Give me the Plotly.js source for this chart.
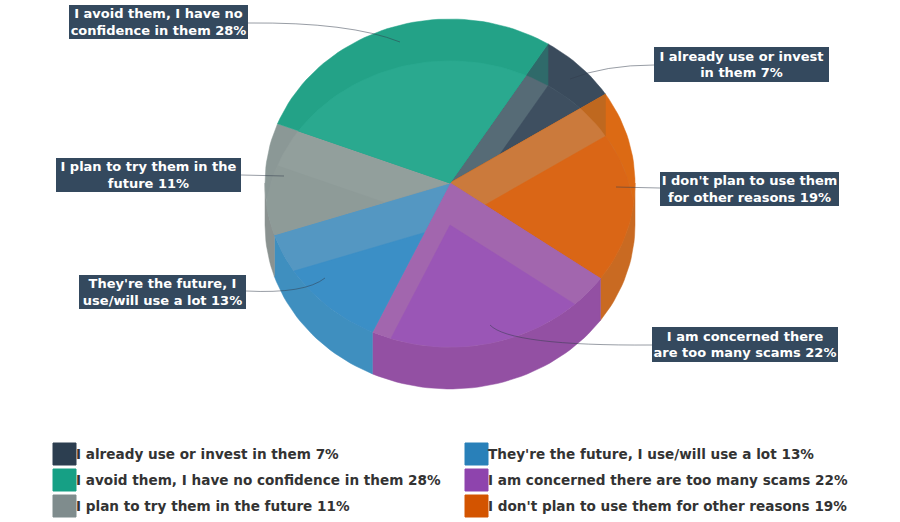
<!DOCTYPE html>
<html>
<head>
<meta charset="utf-8">
<script src="https://cdn.plot.ly/plotly-3.0.1.min.js"></script>
<style>html,body{margin:0;padding:0;background:#fff}#c{width:900px;height:522px}</style>
</head>
<body>
<div id="c"></div>
<script>
// Data, clockwise from the first slice
const categories = ["I already use or invest in them", "I don't plan to use them for other reasons", "I am concerned there are too many scams", "They're the future, I use/will use a lot", "I plan to try them in the future", "I avoid them, I have no confidence in them"];
const values = [7, 19, 22, 13, 11, 28];
const baseColors = ["#2c3e50", "#d35400", "#8e44ad", "#2980b9", "#7f8c8d", "#16a085"];
const innerColors = ["#3e4f60", "#da6616", "#9a56b6", "#3b8fc6", "#8e9b98", "#2aa98f"];
const bandColors = ["#566b76", "#cb7a3c", "#a266ae", "#5497c2", "#929f9c", "#2aa98f"];
const backColors = ["#3a4b5c", "#dc6a14", "#a266ae", "#5497c2", "#8b9896", "#23a287"];
const overlapColors = ["#2f6a6a", "#bf681f", null, null, null, null];
const wallColors = ["#2c3e50", "#c96a22", "#9350a3", "#3f8fbf", "#8a9290", "#16a085"];
const labelTexts = ["I already use or invest<br>in them 7%", "I don't plan to use them<br>for other reasons 19%", "I am concerned there<br>are too many scams 22%", "They're the future, I<br>use/will use a lot 13%", "I plan to try them in the<br>future 11%", "I avoid them, I have no<br>confidence in them 28%"];
const legendColumns = [[0, 5, 4], [3, 2, 1]];

// Projection of the tilted cylinder
const cx = 450, cy = 183, rx = 185, ry = 164, depth = 42, startAngle = 32;
const rad = d => d * Math.PI / 180;
const pt = (deg, dy) => [cx + rx * Math.sin(rad(deg)), cy + dy - ry * Math.cos(rad(deg))];
function arc(a, b, dy) {
  const out = [], n = Math.max(2, Math.ceil((b - a) / 2));
  for (let i = 0; i <= n; i++) out.push(pt(a + (b - a) * i / n, dy));
  return out;
}
const sector = (a, b, dy) => [[cx, cy + dy]].concat(arc(a, b, dy));
function area(p) {
  let s = 0;
  for (let i = 0; i < p.length; i++) { const q = p[(i + 1) % p.length]; s += p[i][0] * q[1] - q[0] * p[i][1]; }
  return s;
}
function clip(subject, clipper) {
  const sign = area(clipper) > 0 ? 1 : -1;
  let out = subject;
  for (let i = 0; i < clipper.length && out.length; i++) {
    const A = clipper[i], B = clipper[(i + 1) % clipper.length];
    const side = P => sign * ((B[0] - A[0]) * (P[1] - A[1]) - (B[1] - A[1]) * (P[0] - A[0]));
    const input = out; out = [];
    for (let j = 0; j < input.length; j++) {
      const P = input[j], Q = input[(j + 1) % input.length], sp = side(P), sq = side(Q);
      if (sp >= 0) out.push(P);
      if ((sp >= 0) !== (sq >= 0)) {
        const t = sp / (sp - sq);
        out.push([P[0] + (Q[0] - P[0]) * t, P[1] + (Q[1] - P[1]) * t]);
      }
    }
  }
  return out;
}
function poly(points, color, name) {
  if (points.length < 3) return null;
  const closed = points.concat([points[0]]);
  return {
    type: "scatter", mode: "lines", name: name, fill: "toself", fillcolor: color,
    x: closed.map(p => p[0]), y: closed.map(p => p[1]),
    line: {color: color, width: 0.5}, hoverinfo: "name", showlegend: false
  };
}

const traces = [];
let acc = startAngle;
const spans = values.map(v => { const a = acc; acc += v * 3.6; return [a, acc]; });
spans.forEach(([a, b], i) => {
  const lo = Math.max(a, 90), hi = Math.min(b, 270);
  if (lo < hi) traces.push(poly(arc(lo, hi, 0).concat(arc(lo, hi, depth).reverse()), wallColors[i], categories[i]));
});
const shiftedEllipse = arc(0, 360, depth).slice(0, -1);
spans.forEach(([a, b], i) => {
  const top = sector(a, b, 0);
  traces.push(poly(top, backColors[i], categories[i]));
  if (overlapColors[i]) {
    const edge = pt(a, 0)[0];
    const leftOfEdge = [[0, 0], [edge, 0], [edge, 522], [0, 522]];
    traces.push(poly(clip(top, leftOfEdge), overlapColors[i], categories[i]));
  }
  traces.push(poly(clip(top, shiftedEllipse), bandColors[i], categories[i]));
  traces.push(poly(clip(top, sector(a, b, depth)), innerColors[i], categories[i]));
});

// Labels
const labelBoxes = [[654, 47, 829, 82], [660, 172, 839, 206], [652, 327, 838, 362], [79, 275, 246, 309], [56, 158, 241, 192], [69, 5, 248, 39]];
const annotations = labelBoxes.map((b, i) => ({
  xref: "x", yref: "y", x: (b[0] + b[2]) / 2, y: (b[1] + b[3]) / 2, xanchor: "center", yanchor: "middle",
  width: b[2] - b[0], height: b[3] - b[1], showarrow: false, text: labelTexts[i], align: "center",
  bgcolor: "#34495e", borderpad: 0, borderwidth: 0,
  font: {family: "DejaVu Sans", size: 13, color: "#ffffff", weight: 700}
}));
const connectors = ["M654,65 Q605,65 570,79", "M660,188 L616,187", "M652,345 Q510,346 490,325", "M246,291 Q305,294 325,278", "M241,175 L284,176", "M248,23 Q350,22 400,42"];
const shapes = connectors.map(p => ({type: "path", xref: "x", yref: "y", path: p, line: {color: "rgba(50,60,75,0.5)", width: 1}}));

// Legend
const legendX = [53, 465], legendY = [443, 469, 495], swatch = 23;
legendColumns.forEach((col, c) => col.forEach((idx, r) => {
  shapes.push({type: "rect", xref: "x", yref: "y", x0: legendX[c], x1: legendX[c] + swatch, y0: legendY[r], y1: legendY[r] + swatch - 1,
    fillcolor: baseColors[idx], line: {color: baseColors[idx], width: 1}});
  annotations.push({xref: "x", yref: "y", x: legendX[c] + swatch - 2, y: legendY[r] + 11, xanchor: "left", yanchor: "middle", showarrow: false,
    text: categories[idx] + " " + values[idx] + "%", font: {family: "DejaVu Sans", size: 13.6, color: "#333333", weight: 700}});
}));

Plotly.newPlot("c", traces.filter(Boolean), {
  width: 900, height: 522, margin: {l: 0, r: 0, t: 0, b: 0},
  paper_bgcolor: "#ffffff", plot_bgcolor: "#ffffff", showlegend: false,
  xaxis: {range: [0, 900], visible: false, fixedrange: true},
  yaxis: {range: [522, 0], visible: false, fixedrange: true},
  shapes: shapes, annotations: annotations
}, {displayModeBar: false});
</script>
</body>
</html>
